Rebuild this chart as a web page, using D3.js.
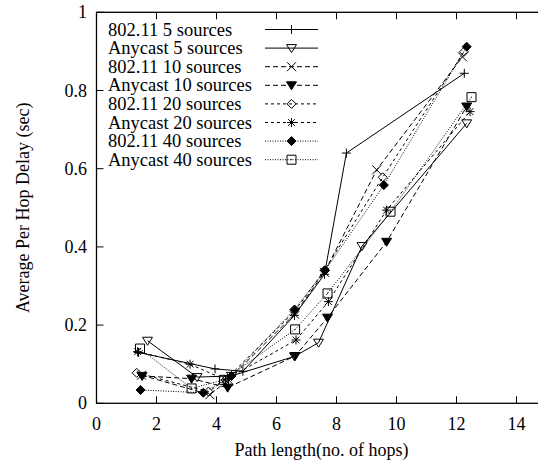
<!DOCTYPE html>
<html><head><meta charset="utf-8">
<script src="https://cdn.jsdelivr.net/npm/d3@7"></script>
<style>
body{margin:0;background:#fff;overflow:hidden}
</style>
</head><body>
<svg id="c" width="538" height="466"></svg>
<script>
// ---- data ----
const seriesNames = ["802.11 5 sources","Anycast 5 sources","802.11 10 sources","Anycast 10 sources",
                     "802.11 20 sources","Anycast 20 sources","802.11 40 sources","Anycast 40 sources"];
const x_80211_5  = [1.40, 3.95, 4.88, 6.60, 7.60, 8.33, 12.26];
const y_80211_5  = [0.130,0.088,0.082,0.225,0.330,0.640,0.844];
const x_any_5    = [1.70, 3.35, 4.50, 6.60, 7.40, 8.85, 12.34];
const y_any_5    = [0.160,0.067,0.070,0.120,0.155,0.402,0.716];
const x_80211_10 = [1.50, 3.78, 4.40, 6.60, 7.60, 9.34, 12.20];
const y_80211_10 = [0.072,0.022,0.060,0.228,0.335,0.597,0.886];
const x_any_10   = [1.52, 3.17, 4.37, 6.62, 7.70, 9.67, 12.34];
const y_any_10   = [0.070,0.063,0.040,0.121,0.219,0.413,0.759];
const x_80211_20 = [1.34, 3.73, 4.30, 6.60, 7.60, 9.54, 12.25];
const y_80211_20 = [0.078,0.030,0.060,0.235,0.340,0.578,0.899];
const x_any_20   = [1.37, 3.12, 4.30, 6.65, 7.73, 9.67, 12.45];
const y_any_20   = [0.132,0.100,0.060,0.162,0.260,0.494,0.746];
const x_80211_40 = [1.47, 3.56, 4.50, 6.60, 7.62, 9.58, 12.34];
const y_80211_40 = [0.034,0.027,0.070,0.240,0.340,0.558,0.912];
const x_any_40   = [1.45, 3.17, 4.25, 6.62, 7.70, 9.80, 12.50];
const y_any_40   = [0.140,0.038,0.060,0.189,0.281,0.490,0.783];
const xTicks = [0,2,4,6,8,10,12,14];
const yTicks = [0,0.2,0.4,0.6,0.8,1];
const yTickLabels = ["0","0.2","0.4","0.6","0.8","1"];

// ---- styles ----
const xsAll = [x_80211_5,x_any_5,x_80211_10,x_any_10,x_80211_20,x_any_20,x_80211_40,x_any_40];
const ysAll = [y_80211_5,y_any_5,y_80211_10,y_any_10,y_80211_20,y_any_20,y_80211_40,y_any_40];
const dashes = [null,null,"5,3","5,3","3,3","3,3","1,1.5","1,1.5"];
const markers = ["plus","triDownOpen","cross","triDownFilled","diamondOpen","star","diamondFilled","square"];

const FONT = '"Liberation Serif"';
const svg = d3.select("#c");
// x range 0..15: the right frame edge falls outside the picture (cropped figure)
const L=96.5, R=546.5, T=12.3, B=403.3;
const x = d3.scaleLinear().domain([0,15]).range([L,R]);
const y = d3.scaleLinear().domain([0,1]).range([B,T]);
const FS = 18, LFS = 18.5;
function txt(g){ return g.append("text").style("font-family",FONT).attr("fill","#000"); }

// frame
svg.append("rect").attr("x",L).attr("y",T).attr("width",R-L).attr("height",B-T)
   .attr("fill","none").attr("stroke","#000").attr("stroke-width",1.3);

const tl=7;
xTicks.forEach(v=>{
  const px=x(v);
  svg.append("line").attr("x1",px).attr("x2",px).attr("y1",B).attr("y2",B-tl).attr("stroke","#000");
  svg.append("line").attr("x1",px).attr("x2",px).attr("y1",T).attr("y2",T+tl).attr("stroke","#000");
  txt(svg).attr("x",px).attr("y",429.5).attr("text-anchor","middle").style("font-size",FS+"px").text(v);
});
yTicks.forEach((v,i)=>{
  const py=y(v);
  svg.append("line").attr("x1",L).attr("x2",L+tl).attr("y1",py).attr("y2",py).attr("stroke","#000");
  svg.append("line").attr("x1",R).attr("x2",R-tl).attr("y1",py).attr("y2",py).attr("stroke","#000");
  txt(svg).attr("x",87).attr("y",py+6).attr("text-anchor","end").style("font-size",FS+"px").text(yTickLabels[i]);
});

txt(svg).attr("x",(L+R)/2).attr("y",456).attr("text-anchor","middle").style("font-size",FS+"px")
   .text("Path length(no. of hops)");
txt(svg).attr("transform",`translate(29,${(T+B)/2}) rotate(-90)`).attr("text-anchor","middle")
   .style("font-size",FS+"px").text("Average Per Hop Delay (sec)");

function markerPath(type,cx,cy){
  const s=4.5;
  switch(type){
    case "plus": return `M${cx-s},${cy}H${cx+s}M${cx},${cy-s}V${cy+s}`;
    case "cross": return `M${cx-s},${cy-s}L${cx+s},${cy+s}M${cx-s},${cy+s}L${cx+s},${cy-s}`;
    case "star": return `M${cx-s},${cy}H${cx+s}M${cx},${cy-s}V${cy+s}M${cx-s*0.75},${cy-s*0.75}L${cx+s*0.75},${cy+s*0.75}M${cx-s*0.75},${cy+s*0.75}L${cx+s*0.75},${cy-s*0.75}`;
    case "triDownOpen": case "triDownFilled": return `M${cx-s-0.5},${cy-s+1}L${cx+s+0.5},${cy-s+1}L${cx},${cy+s}Z`;
    case "diamondOpen": case "diamondFilled": return `M${cx},${cy-s}L${cx+s},${cy}L${cx},${cy+s}L${cx-s},${cy}Z`;
    case "square": return `M${cx-s},${cy-s}H${cx+s}V${cy+s}H${cx-s}ZM${cx-0.5},${cy}h1`;
  }
}
function drawMarker(g,type,cx,cy){
  const filled = type.endsWith("Filled");
  g.append("path").attr("d",markerPath(type,cx,cy))
   .attr("fill",filled?"#000":"none").attr("stroke","#000").attr("stroke-width",1);
}

const line = d3.line().x(d=>x(d[0])).y(d=>y(d[1]));
const plot = svg.append("g");
xsAll.forEach((xs,i)=>{
  const pts = xs.map((v,j)=>[v,ysAll[i][j]]);
  plot.append("path").attr("d",line(pts)).attr("fill","none").attr("stroke","#000")
      .attr("stroke-width",1).attr("stroke-dasharray",dashes[i]);
  pts.forEach(p=>drawMarker(plot,markers[i],x(p[0]),y(p[1])));
});

// legend
const lg = svg.append("g");
seriesNames.forEach((n,i)=>{
  const cy = 29.5 + i*18.6;
  txt(lg).attr("x",108).attr("y",cy+6).style("font-size",LFS+"px").text(n);
  lg.append("line").attr("x1",265).attr("x2",318).attr("y1",cy).attr("y2",cy)
    .attr("stroke","#000").attr("stroke-width",1).attr("stroke-dasharray",dashes[i]);
  drawMarker(lg,markers[i],291.5,cy);
});
</script>
</body></html>
